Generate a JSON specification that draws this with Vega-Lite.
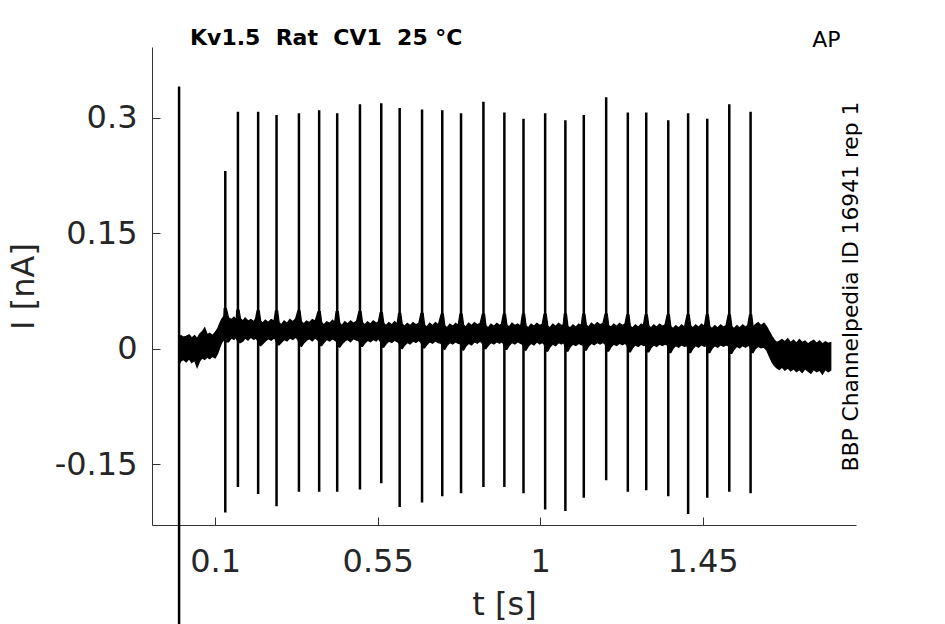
{
  "$schema": "https://vega.github.io/schema/vega-lite/v6.json",
  "autosize": {"type": "none"},
  "width": 704,
  "height": 478,
  "padding": {"left": 152, "top": 47, "right": 89, "bottom": 99},
  "background": "white",
  "config": {
    "view": {"stroke": null},
    "font": "DejaVu Sans",
    "axis": {"grid": false, "labelFont": "DejaVu Sans", "titleFont": "DejaVu Sans"}
  },
  "title": {
    "text": "Kv1.5\u00a0\u00a0Rat\u00a0\u00a0CV1\u00a0\u00a025\u00a0°C",
    "anchor": "start",
    "frame": "group",
    "dx": 38,
    "offset": -38.5,
    "baseline": "alphabetic",
    "fontSize": 22,
    "fontWeight": "bold",
    "font": "DejaVu Sans",
    "color": "#000000"
  },
  "datasets": {
    "band": [
      {"t":0.000,"lo":-0.020,"hi":0.012},{"t":0.005,"lo":-0.016,"hi":0.017},{"t":0.012,"lo":-0.014,"hi":0.015},{"t":0.020,"lo":-0.017,"hi":0.016},{"t":0.028,"lo":-0.013,"hi":0.018},{"t":0.035,"lo":-0.018,"hi":0.014},{"t":0.043,"lo":-0.015,"hi":0.017},{"t":0.050,"lo":-0.024,"hi":0.013},{"t":0.057,"lo":-0.016,"hi":0.019},{"t":0.064,"lo":-0.012,"hi":0.022},{"t":0.071,"lo":-0.014,"hi":0.027},{"t":0.078,"lo":-0.011,"hi":0.018},{"t":0.085,"lo":-0.013,"hi":0.020},{"t":0.092,"lo":-0.010,"hi":0.017},{"t":0.100,"lo":-0.012,"hi":0.021},{"t":0.107,"lo":-0.006,"hi":0.026},{"t":0.113,"lo":0.002,"hi":0.033},{"t":0.118,"lo":0.008,"hi":0.038},{"t":0.124,"lo":0.012,"hi":0.042},{"t":0.137,"lo":0.009,"hi":0.040},{"t":0.145,"lo":0.014,"hi":0.038},{"t":0.152,"lo":0.012,"hi":0.041},{"t":0.158,"lo":0.015,"hi":0.037},
      {"t":0.170,"lo":0.008,"hi":0.039},{"t":0.177,"lo":0.010,"hi":0.036},{"t":0.183,"lo":0.014,"hi":0.040},{"t":0.191,"lo":0.011,"hi":0.036},{"t":0.199,"lo":0.015,"hi":0.038},{"t":0.207,"lo":0.012,"hi":0.035},{"t":0.212,"lo":0.014,"hi":0.039},
      {"t":0.226,"lo":0.004,"hi":0.036},{"t":0.231,"lo":0.006,"hi":0.033},{"t":0.239,"lo":0.010,"hi":0.037},{"t":0.247,"lo":0.013,"hi":0.034},{"t":0.255,"lo":0.011,"hi":0.038},{"t":0.263,"lo":0.014,"hi":0.036},
      {"t":0.277,"lo":0.005,"hi":0.034},{"t":0.283,"lo":0.008,"hi":0.031},{"t":0.291,"lo":0.012,"hi":0.036},{"t":0.299,"lo":0.010,"hi":0.033},{"t":0.307,"lo":0.014,"hi":0.038},{"t":0.315,"lo":0.012,"hi":0.035},{"t":0.323,"lo":0.015,"hi":0.039},
      {"t":0.339,"lo":0.003,"hi":0.035},{"t":0.345,"lo":0.007,"hi":0.032},{"t":0.353,"lo":0.011,"hi":0.036},{"t":0.361,"lo":0.013,"hi":0.034},{"t":0.369,"lo":0.010,"hi":0.038},{"t":0.377,"lo":0.014,"hi":0.036},
      {"t":0.395,"lo":0.004,"hi":0.034},{"t":0.401,"lo":0.008,"hi":0.031},{"t":0.409,"lo":0.012,"hi":0.035},{"t":0.417,"lo":0.010,"hi":0.033},{"t":0.425,"lo":0.013,"hi":0.037},{"t":0.431,"lo":0.011,"hi":0.034},
      {"t":0.445,"lo":0.002,"hi":0.033},{"t":0.451,"lo":0.006,"hi":0.030},{"t":0.459,"lo":0.010,"hi":0.035},{"t":0.467,"lo":0.012,"hi":0.032},{"t":0.475,"lo":0.009,"hi":0.036},{"t":0.483,"lo":0.013,"hi":0.033},{"t":0.492,"lo":0.011,"hi":0.036},
      {"t":0.508,"lo":0.003,"hi":0.034},{"t":0.514,"lo":0.007,"hi":0.031},{"t":0.522,"lo":0.011,"hi":0.035},{"t":0.530,"lo":0.009,"hi":0.032},{"t":0.538,"lo":0.012,"hi":0.036},{"t":0.546,"lo":0.010,"hi":0.033},{"t":0.552,"lo":0.013,"hi":0.035},
      {"t":0.567,"lo":0.002,"hi":0.033},{"t":0.573,"lo":0.006,"hi":0.030},{"t":0.581,"lo":0.010,"hi":0.034},{"t":0.589,"lo":0.008,"hi":0.031},{"t":0.597,"lo":0.011,"hi":0.035},{"t":0.604,"lo":0.009,"hi":0.032},
      {"t":0.618,"lo":0.000,"hi":0.032},{"t":0.624,"lo":0.004,"hi":0.029},{"t":0.632,"lo":0.008,"hi":0.033},{"t":0.640,"lo":0.006,"hi":0.030},{"t":0.648,"lo":0.010,"hi":0.034},{"t":0.656,"lo":0.008,"hi":0.031},{"t":0.664,"lo":0.011,"hi":0.033},
      {"t":0.680,"lo":0.001,"hi":0.031},{"t":0.686,"lo":0.005,"hi":0.028},{"t":0.694,"lo":0.009,"hi":0.033},{"t":0.702,"lo":0.007,"hi":0.030},{"t":0.710,"lo":0.010,"hi":0.034},{"t":0.718,"lo":0.008,"hi":0.031},
      {"t":0.736,"lo":-0.001,"hi":0.030},{"t":0.742,"lo":0.004,"hi":0.027},{"t":0.750,"lo":0.008,"hi":0.032},{"t":0.758,"lo":0.006,"hi":0.029},{"t":0.766,"lo":0.009,"hi":0.033},{"t":0.773,"lo":0.007,"hi":0.030},
      {"t":0.788,"lo":-0.002,"hi":0.031},{"t":0.794,"lo":0.003,"hi":0.028},{"t":0.802,"lo":0.007,"hi":0.033},{"t":0.810,"lo":0.005,"hi":0.030},{"t":0.818,"lo":0.009,"hi":0.034},{"t":0.826,"lo":0.007,"hi":0.031},{"t":0.834,"lo":0.010,"hi":0.033},
      {"t":0.850,"lo":0.000,"hi":0.030},{"t":0.856,"lo":0.004,"hi":0.027},{"t":0.864,"lo":0.008,"hi":0.032},{"t":0.872,"lo":0.006,"hi":0.029},{"t":0.880,"lo":0.009,"hi":0.033},{"t":0.888,"lo":0.007,"hi":0.030},{"t":0.893,"lo":0.009,"hi":0.032},
      {"t":0.908,"lo":-0.001,"hi":0.031},{"t":0.914,"lo":0.004,"hi":0.028},{"t":0.922,"lo":0.008,"hi":0.033},{"t":0.930,"lo":0.006,"hi":0.030},{"t":0.938,"lo":0.009,"hi":0.032},{"t":0.946,"lo":0.007,"hi":0.029},
      {"t":0.961,"lo":-0.002,"hi":0.030},{"t":0.967,"lo":0.003,"hi":0.027},{"t":0.975,"lo":0.007,"hi":0.032},{"t":0.983,"lo":0.005,"hi":0.029},{"t":0.991,"lo":0.009,"hi":0.033},{"t":0.999,"lo":0.006,"hi":0.030},{"t":1.006,"lo":0.008,"hi":0.032},
      {"t":1.021,"lo":-0.003,"hi":0.030},{"t":1.027,"lo":0.002,"hi":0.027},{"t":1.035,"lo":0.006,"hi":0.032},{"t":1.043,"lo":0.004,"hi":0.029},{"t":1.051,"lo":0.008,"hi":0.033},{"t":1.059,"lo":0.006,"hi":0.030},{"t":1.064,"lo":0.008,"hi":0.031},
      {"t":1.077,"lo":-0.003,"hi":0.029},{"t":1.083,"lo":0.002,"hi":0.027},{"t":1.091,"lo":0.006,"hi":0.031},{"t":1.099,"lo":0.004,"hi":0.028},{"t":1.107,"lo":0.007,"hi":0.032},{"t":1.114,"lo":0.005,"hi":0.030},
      {"t":1.128,"lo":-0.002,"hi":0.031},{"t":1.134,"lo":0.003,"hi":0.028},{"t":1.142,"lo":0.007,"hi":0.033},{"t":1.150,"lo":0.005,"hi":0.030},{"t":1.158,"lo":0.008,"hi":0.034},{"t":1.166,"lo":0.006,"hi":0.031},{"t":1.174,"lo":0.008,"hi":0.033},
      {"t":1.190,"lo":-0.003,"hi":0.030},{"t":1.196,"lo":0.002,"hi":0.028},{"t":1.204,"lo":0.006,"hi":0.032},{"t":1.212,"lo":0.004,"hi":0.029},{"t":1.220,"lo":0.007,"hi":0.033},{"t":1.228,"lo":0.005,"hi":0.030},{"t":1.235,"lo":0.007,"hi":0.032},
      {"t":1.250,"lo":-0.004,"hi":0.029},{"t":1.256,"lo":0.001,"hi":0.027},{"t":1.264,"lo":0.005,"hi":0.031},{"t":1.272,"lo":0.003,"hi":0.028},{"t":1.280,"lo":0.006,"hi":0.032},{"t":1.286,"lo":0.004,"hi":0.030},
      {"t":1.301,"lo":-0.004,"hi":0.030},{"t":1.307,"lo":0.001,"hi":0.027},{"t":1.315,"lo":0.005,"hi":0.031},{"t":1.323,"lo":0.003,"hi":0.028},{"t":1.331,"lo":0.006,"hi":0.032},{"t":1.339,"lo":0.004,"hi":0.029},{"t":1.346,"lo":0.006,"hi":0.031},
      {"t":1.362,"lo":-0.005,"hi":0.029},{"t":1.368,"lo":0.000,"hi":0.026},{"t":1.376,"lo":0.004,"hi":0.030},{"t":1.384,"lo":0.002,"hi":0.027},{"t":1.392,"lo":0.005,"hi":0.031},{"t":1.400,"lo":0.003,"hi":0.028},
      {"t":1.417,"lo":-0.005,"hi":0.030},{"t":1.423,"lo":0.000,"hi":0.027},{"t":1.431,"lo":0.004,"hi":0.031},{"t":1.439,"lo":0.002,"hi":0.028},{"t":1.447,"lo":0.005,"hi":0.032},{"t":1.455,"lo":0.003,"hi":0.029},
      {"t":1.470,"lo":-0.005,"hi":0.029},{"t":1.476,"lo":0.000,"hi":0.026},{"t":1.484,"lo":0.004,"hi":0.030},{"t":1.492,"lo":0.002,"hi":0.027},{"t":1.500,"lo":0.005,"hi":0.031},{"t":1.508,"lo":0.003,"hi":0.028},{"t":1.515,"lo":0.005,"hi":0.030},
      {"t":1.531,"lo":-0.006,"hi":0.029},{"t":1.537,"lo":-0.001,"hi":0.026},{"t":1.545,"lo":0.003,"hi":0.030},{"t":1.553,"lo":0.001,"hi":0.027},{"t":1.561,"lo":0.004,"hi":0.031},{"t":1.569,"lo":0.002,"hi":0.028},{"t":1.575,"lo":0.004,"hi":0.030},
      {"t":1.590,"lo":-0.005,"hi":0.028},{"t":1.596,"lo":0.000,"hi":0.031},{"t":1.604,"lo":0.003,"hi":0.034},{"t":1.612,"lo":0.001,"hi":0.030},{"t":1.620,"lo":0.002,"hi":0.033},{"t":1.628,"lo":-0.002,"hi":0.028},{"t":1.635,"lo":-0.010,"hi":0.022},{"t":1.642,"lo":-0.017,"hi":0.016},{"t":1.649,"lo":-0.022,"hi":0.011},{"t":1.656,"lo":-0.025,"hi":0.008},
      {"t":1.663,"lo":-0.027,"hi":0.010},{"t":1.670,"lo":-0.024,"hi":0.012},{"t":1.678,"lo":-0.028,"hi":0.009},{"t":1.686,"lo":-0.025,"hi":0.013},{"t":1.694,"lo":-0.029,"hi":0.008},{"t":1.702,"lo":-0.026,"hi":0.011},{"t":1.710,"lo":-0.030,"hi":0.007},{"t":1.718,"lo":-0.027,"hi":0.012},{"t":1.726,"lo":-0.031,"hi":0.008},{"t":1.734,"lo":-0.026,"hi":0.010},{"t":1.742,"lo":-0.029,"hi":0.006},{"t":1.750,"lo":-0.032,"hi":0.009},{"t":1.758,"lo":-0.027,"hi":0.011},{"t":1.766,"lo":-0.030,"hi":0.007},{"t":1.774,"lo":-0.028,"hi":0.010},{"t":1.782,"lo":-0.033,"hi":0.006},{"t":1.790,"lo":-0.027,"hi":0.009},{"t":1.798,"lo":-0.030,"hi":0.007},{"t":1.805,"lo":-0.028,"hi":0.008},
      {"t":0.125,"lo":0.011,"hi":0.052},{"t":0.131,"lo":0.009,"hi":0.052},
      {"t":0.160,"lo":0.012,"hi":0.050},{"t":0.166,"lo":0.008,"hi":0.050},
      {"t":0.216,"lo":0.012,"hi":0.049},{"t":0.222,"lo":0.005,"hi":0.049},
      {"t":0.267,"lo":0.012,"hi":0.049},{"t":0.273,"lo":0.005,"hi":0.049},
      {"t":0.329,"lo":0.012,"hi":0.049},{"t":0.335,"lo":0.004,"hi":0.049},
      {"t":0.385,"lo":0.011,"hi":0.048},{"t":0.391,"lo":0.004,"hi":0.048},
      {"t":0.435,"lo":0.010,"hi":0.048},{"t":0.441,"lo":0.003,"hi":0.048},
      {"t":0.498,"lo":0.010,"hi":0.048},{"t":0.504,"lo":0.003,"hi":0.048},
      {"t":0.557,"lo":0.010,"hi":0.047},{"t":0.563,"lo":0.002,"hi":0.047},
      {"t":0.608,"lo":0.008,"hi":0.046},{"t":0.614,"lo":0.001,"hi":0.046},
      {"t":0.670,"lo":0.008,"hi":0.046},{"t":0.676,"lo":0.001,"hi":0.046},
      {"t":0.726,"lo":0.007,"hi":0.045},{"t":0.732,"lo":0.000,"hi":0.045},
      {"t":0.778,"lo":0.007,"hi":0.045},{"t":0.784,"lo":-0.001,"hi":0.045},
      {"t":0.840,"lo":0.007,"hi":0.045},{"t":0.846,"lo":0.000,"hi":0.045},
      {"t":0.898,"lo":0.007,"hi":0.045},{"t":0.904,"lo":-0.001,"hi":0.045},
      {"t":0.951,"lo":0.006,"hi":0.045},{"t":0.957,"lo":-0.002,"hi":0.045},
      {"t":1.011,"lo":0.006,"hi":0.045},{"t":1.017,"lo":-0.003,"hi":0.045},
      {"t":1.067,"lo":0.006,"hi":0.045},{"t":1.073,"lo":-0.003,"hi":0.045},
      {"t":1.118,"lo":0.006,"hi":0.045},{"t":1.124,"lo":-0.002,"hi":0.045},
      {"t":1.180,"lo":0.006,"hi":0.045},{"t":1.186,"lo":-0.003,"hi":0.045},
      {"t":1.240,"lo":0.005,"hi":0.044},{"t":1.246,"lo":-0.004,"hi":0.044},
      {"t":1.291,"lo":0.005,"hi":0.044},{"t":1.297,"lo":-0.004,"hi":0.044},
      {"t":1.352,"lo":0.005,"hi":0.044},{"t":1.358,"lo":-0.005,"hi":0.044},
      {"t":1.407,"lo":0.004,"hi":0.044},{"t":1.413,"lo":-0.005,"hi":0.044},
      {"t":1.460,"lo":0.004,"hi":0.044},{"t":1.466,"lo":-0.005,"hi":0.044},
      {"t":1.521,"lo":0.004,"hi":0.044},{"t":1.527,"lo":-0.006,"hi":0.044},
      {"t":1.580,"lo":0.004,"hi":0.044},{"t":1.586,"lo":-0.005,"hi":0.044}
    ],
    "spikes": [
      {"t":0.000,"peak":0.341,"trough":-0.5},
      {"t":0.128,"peak":0.231,"trough":-0.213},
      {"t":0.163,"peak":0.308,"trough":-0.180},
      {"t":0.219,"peak":0.308,"trough":-0.189},
      {"t":0.270,"peak":0.304,"trough":-0.205},
      {"t":0.332,"peak":0.306,"trough":-0.186},
      {"t":0.388,"peak":0.310,"trough":-0.186},
      {"t":0.438,"peak":0.306,"trough":-0.186},
      {"t":0.501,"peak":0.318,"trough":-0.183},
      {"t":0.560,"peak":0.319,"trough":-0.175},
      {"t":0.611,"peak":0.313,"trough":-0.206},
      {"t":0.673,"peak":0.311,"trough":-0.200},
      {"t":0.729,"peak":0.310,"trough":-0.192},
      {"t":0.781,"peak":0.306,"trough":-0.188},
      {"t":0.843,"peak":0.321,"trough":-0.180},
      {"t":0.901,"peak":0.307,"trough":-0.180},
      {"t":0.954,"peak":0.299,"trough":-0.188},
      {"t":1.014,"peak":0.306,"trough":-0.209},
      {"t":1.070,"peak":0.297,"trough":-0.211},
      {"t":1.121,"peak":0.304,"trough":-0.194},
      {"t":1.183,"peak":0.327,"trough":-0.171},
      {"t":1.243,"peak":0.307,"trough":-0.186},
      {"t":1.294,"peak":0.307,"trough":-0.184},
      {"t":1.355,"peak":0.297,"trough":-0.192},
      {"t":1.410,"peak":0.306,"trough":-0.215},
      {"t":1.463,"peak":0.299,"trough":-0.194},
      {"t":1.524,"peak":0.318,"trough":-0.186},
      {"t":1.583,"peak":0.308,"trough":-0.188}
    ]
  },
  "resolve": {"axis": {"x": "independent", "y": "independent"}},
  "layer": [
    {
      "data": {"name": "band"},
      "mark": {"type": "area", "color": "#000000", "stroke": "#000000", "strokeWidth": 1.3, "opacity": 1},
      "encoding": {
        "x": {
          "field": "t", "type": "quantitative",
          "scale": {"domain": [-0.075, 1.875], "nice": false, "zero": false},
          "axis": {
            "orient": "bottom", "values": [0.1, 0.55, 1, 1.45], "labelExpr": "'' + datum.value",
            "title": "t [s]", "titleFontSize": 32, "titleFontWeight": "normal", "titleColor": "#262626",
            "titleX": 352, "titleY": 89, "titleBaseline": "alphabetic", "titleAlign": "center", "titleAngle": 0,
            "labelFontSize": 32, "labelColor": "#262626", "labelBaseline": "alphabetic", "labelPadding": 54,
            "labelFlush": false, "labelOverlap": false,
            "tickSize": -8, "tickColor": "#333333", "tickWidth": 1, "domainColor": "#333333", "domainWidth": 1
          }
        },
        "y": {
          "field": "lo", "type": "quantitative",
          "scale": {"domain": [-0.2293, 0.3923], "nice": false, "zero": false},
          "axis": {
            "orient": "left", "values": [0.3, 0.15, 0, -0.15], "labelExpr": "'' + datum.value",
            "title": "I [nA]", "titleFontSize": 32, "titleFontWeight": "normal", "titleColor": "#262626",
            "titleX": -119, "titleY": 239, "titleAngle": 270, "titleBaseline": "alphabetic", "titleAlign": "center",
            "labelFontSize": 32, "labelColor": "#262626", "labelBaseline": "middle", "labelAlign": "right", "labelPadding": 23,
            "labelFlush": false, "labelOverlap": false,
            "tickSize": -8, "tickColor": "#333333", "tickWidth": 1, "domainColor": "#333333", "domainWidth": 1
          }
        },
        "y2": {"field": "hi"}
      }
    },
    {
      "data": {"name": "spikes"},
      "mark": {"type": "rule", "color": "#000000", "strokeWidth": 2.5, "clip": false},
      "encoding": {
        "x": {
          "field": "t", "type": "quantitative",
          "axis": {
            "orient": "top", "title": "AP", "labels": false, "ticks": false, "domain": false,
            "titleFontSize": 22, "titleFontWeight": "normal", "titleColor": "#000000",
            "titleX": 688, "titleY": -1, "titleAlign": "right", "titleBaseline": "alphabetic", "titleAngle": 0
          }
        },
        "y": {
          "field": "trough", "type": "quantitative",
          "axis": {
            "orient": "right", "title": "BBP Channelpedia ID 16941 rep 1", "labels": false, "ticks": false, "domain": false,
            "titleFontSize": 21.8, "titleFontWeight": "normal", "titleColor": "#000000",
            "titleX": 1, "titleY": 239, "titleAngle": 270, "titleAlign": "center", "titleBaseline": "alphabetic"
          }
        },
        "y2": {"field": "peak"}
      }
    }
  ]
}
